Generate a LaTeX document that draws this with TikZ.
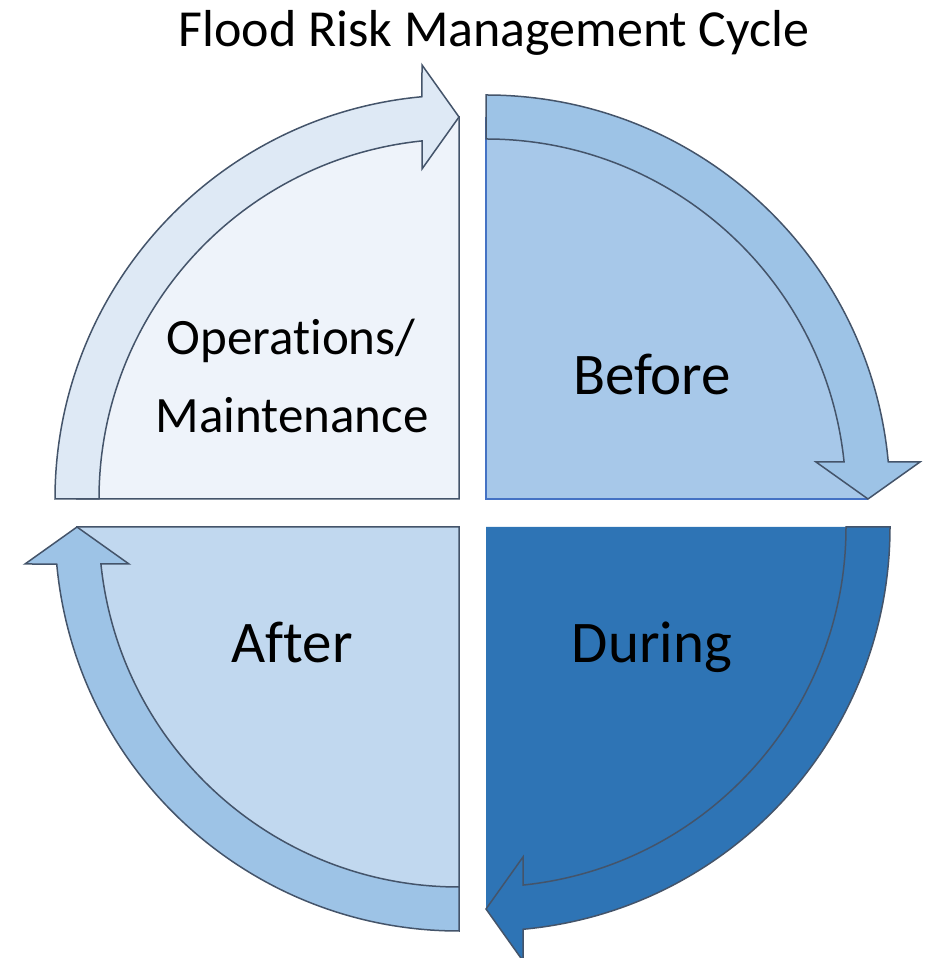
\documentclass[tikz,border=0pt]{standalone}
\usepackage{fontspec}
\setmainfont{Carlito}[Ligatures={NoCommon,NoRare,NoContextual}]
\definecolor{opsfill}{HTML}{EEF3FA}
\definecolor{opsband}{HTML}{DEE9F5}
\definecolor{beforefill}{HTML}{A7C8E9}
\definecolor{beforeband}{HTML}{9DC3E6}
\definecolor{duringfill}{HTML}{2E74B5}
\definecolor{afterfill}{HTML}{C1D8EF}
\definecolor{edgegrey}{HTML}{44546A}
\definecolor{edgeblue}{HTML}{4472C4}
\begin{document}
\begin{tikzpicture}[x=1pt,y=1pt,
    quarter/.style={line width=1.5pt,line join=miter},
    band/.style={draw=edgegrey,line width=1.5pt,line join=miter},
    label/.style={anchor=base,text=black,inner sep=0pt}]
  \useasboundingbox (0,0) rectangle (930,958);

  \begin{scope}[shift={(459,459)}]
    \path[quarter,fill=opsfill,draw=edgegrey] (0,0) -- (-382,0) arc[start angle=180,end angle=90,radius=382] -- cycle;
  \end{scope}
  \begin{scope}[shift={(486,459)}]
    \fill[beforefill] (0,0) -- (0,382) arc[start angle=90,end angle=0,radius=382] -- cycle;
    \draw[quarter,edgeblue,line width=2pt] (0,382) -- (0,0) -- (382,0);
  \end{scope}
  \begin{scope}[shift={(486,431)}]
    \fill[duringfill] (0,0) -- (382,0) arc[start angle=0,end angle=-90,radius=382] -- cycle;
  \end{scope}
  \begin{scope}[shift={(459,431)}]
    \path[quarter,fill=afterfill,draw=edgegrey] (0,0) -- (0,-382) arc[start angle=270,end angle=180,radius=382] -- cycle;
  \end{scope}

  \foreach \cx/\cy/\turn/\col in {459/459/0/opsband,486/459/-90/beforeband,486/431/-180/duringfill,459/431/-270/beforeband}{
    \begin{scope}[shift={(\cx,\cy)},rotate=\turn]
      \path[band,fill=\col] (180:404) arc[start angle=180,end angle=95.26,radius=404]
        -- (-37,434) -- (0,382) -- (-37,330) -- (95.9:360)
        arc[start angle=95.9,end angle=180,radius=360] -- cycle;
    \end{scope}
  }

  \node[label,font=\fontsize{52}{60}\selectfont] (title) at (494,911) {Flood Risk Management Cycle};
  \node[label,font=\fontsize{51}{60}\selectfont] (ops) at (291,603) {Operations/};
  \node[label,font=\fontsize{51}{60}\selectfont] (maint) at (292,525) {Maintenance};
  \node[label,font=\fontsize{59}{66}\selectfont] (before) at (652,563) {Before};
  \node[label,font=\fontsize{59}{66}\selectfont] (during) at (652,295) {During};
  \node[label,font=\fontsize{59}{66}\selectfont] (after) at (292,295) {After};
\end{tikzpicture}
\end{document}
